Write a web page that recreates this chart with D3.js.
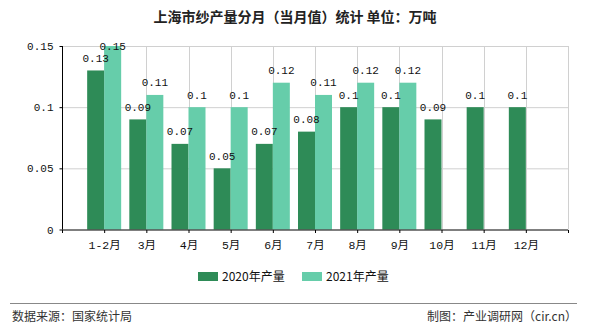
<!DOCTYPE html>
<html><head><meta charset="utf-8">
<script src="https://cdn.jsdelivr.net/npm/d3@7"></script>
<style>
body{margin:0;background:#fff;}
svg{display:block;}
</style></head>
<body>
<svg id="c" width="590" height="330"></svg>
<script>
const categories = ["1-2月","3月","4月","5月","6月","7月","8月","9月","10月","11月","12月"];
const series = ["2020年产量","2021年产量"];
const values2020 = [0.13,0.09,0.07,0.05,0.07,0.08,0.1,0.1,0.09,0.1,0.1];
const values2021 = [0.15,0.11,0.1,0.1,0.12,0.11,0.12,0.12,null,null,null];
const yTicks = [0,0.05,0.1,0.15];
const colors = ["#2E8B57","#66CDAA"];
const title = "上海市纱产量分月（当月值）统计 单位：万吨";
const sourceText = "数据来源：国家统计局";
const creditText = "制图：产业调研网（cir.cn）";

const svg = d3.select("#c");
const L = 62, R = 568, T = 46, B = 229.5;
const mono = "'Liberation Mono','Noto Sans CJK SC',monospace";
const cjk = "'Noto Sans CJK SC','Noto Sans',sans-serif";

const x = d3.scalePoint().domain(categories).range([L, R]).padding(1);
const y = d3.scaleLinear().domain([0, 0.15]).range([B, T]);
const barW = 17;
const xs = d3.scaleBand().domain(series).range([-barW, barW]).padding(0);

// title
svg.append("text").attr("x", 295).attr("y", 22).attr("text-anchor","middle")
  .attr("font-family", cjk).attr("font-size", 14).attr("font-weight","bold").attr("fill","#222").text(title);

// grid
const g = svg.append("g");
g.selectAll("line.h").data(yTicks.filter(d=>d>0)).join("line")
  .attr("x1", L).attr("x2", R).attr("y1", d=>y(d)+0.5).attr("y2", d=>y(d)+0.5)
  .attr("stroke","#d0d0d0").attr("stroke-width",1);
g.selectAll("line.v").data(categories).join("line")
  .attr("x1", d=>Math.round(x(d))+0.5).attr("x2", d=>Math.round(x(d))+0.5).attr("y1", T).attr("y2", B)
  .attr("stroke","#d0d0d0").attr("stroke-width",1);
g.append("line").attr("x1", R+0.5).attr("x2", R+0.5).attr("y1", T).attr("y2", B)
  .attr("stroke","#d0d0d0");

// bars
const data = categories.map((c,i)=>({c, vals:[values2020[i], values2021[i]]}));
const grp = svg.append("g").selectAll("g").data(data).join("g")
  .attr("transform", d=>`translate(${x(d.c)},0)`);
grp.selectAll("rect").data(d=>d.vals.map((v,k)=>({v,k})).filter(e=>e.v!=null)).join("rect")
  .attr("x", e=>xs(series[e.k])).attr("width", xs.bandwidth())
  .attr("y", e=>y(e.v)).attr("height", e=>B - y(e.v))
  .attr("fill", e=>colors[e.k]);
grp.selectAll("text").data(d=>d.vals.map((v,k)=>({v,k})).filter(e=>e.v!=null)).join("text")
  .attr("x", e=>xs(series[e.k]) + xs.bandwidth()/2)
  .attr("y", e=>Math.max(y(e.v) - 8.5, 49.5))
  .attr("text-anchor","middle").attr("font-family", mono).attr("font-size", 11).attr("fill","#111")
  .text(e=>String(e.v));

// axes
const yAxis = d3.axisLeft(y).tickValues(yTicks).tickSize(3).tickFormat(d=>String(d));
const ya = svg.append("g").attr("transform", `translate(${L+0.5},0)`).call(yAxis);
ya.select(".domain").attr("stroke","#000").attr("d", `M0,${T}V${B}`);
ya.selectAll("text").attr("font-family", mono).attr("font-size", 11).attr("fill","#111").attr("x",-9);
ya.selectAll(".tick line").attr("stroke","#000");

const xAxis = d3.axisBottom(x).tickSize(3).tickSizeOuter(0);
const xa = svg.append("g").attr("transform", `translate(0,${B+0.5})`).call(xAxis);
xa.select(".domain").attr("stroke","#000").attr("d", `M${L},0H${R}`);
xa.selectAll(".tick line").attr("stroke","#000");
xa.selectAll("text").attr("font-family", mono).attr("font-size", 11.5).attr("fill","#111").attr("dy","1.1em");
[L, R].forEach(px=>xa.append("line").attr("x1",px+0.5).attr("x2",px+0.5).attr("y1",0).attr("y2",3).attr("stroke","#000"));

// legend
const leg = svg.append("g");
const legX = [198, 302];
series.forEach((s,k)=>{
  leg.append("rect").attr("x", legX[k]).attr("y", 272).attr("width", 20).attr("height", 9).attr("fill", colors[k]);
  leg.append("text").attr("x", legX[k]+24).attr("y", 281).attr("font-family", cjk).attr("font-size", 12).attr("fill","#111").text(s);
});

// footer
svg.append("line").attr("x1",10).attr("x2",577).attr("y1",303.5).attr("y2",303.5).attr("stroke","#888").attr("stroke-width",1);
svg.append("text").attr("x",12).attr("y",321).attr("font-family", cjk).attr("font-size",12).attr("fill","#333").text(sourceText);
svg.append("text").attr("x",577).attr("y",321).attr("text-anchor","end").attr("font-family", cjk).attr("font-size",12).attr("fill","#333").text(creditText);
</script>
</body></html>
